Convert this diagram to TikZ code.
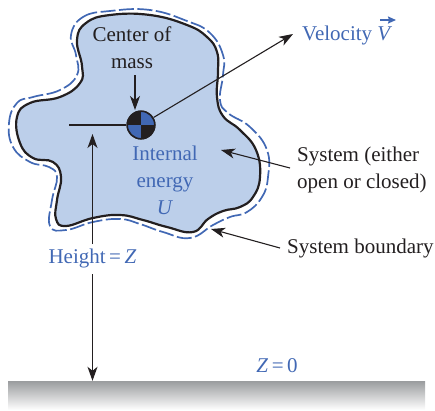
\documentclass[tikz,border=0pt]{standalone}
\usepackage{fontspec}
\setmainfont{Liberation Serif}
\usetikzlibrary{arrows.meta,calc}
\definecolor{fillblue}{HTML}{BCCFEA}
\definecolor{txtblue}{HTML}{4168B4}
\definecolor{ink}{HTML}{231F20}
\definecolor{gtop}{HTML}{9A9C9E}
\tikzset{
  lab/.style={inner sep=0pt,font=\fontsize{21}{27}\selectfont,text=ink,align=center},
  blab/.style={lab,text=txtblue},
  con/.style={draw=ink,line width=1.1pt,-{Stealth[length=14pt,width=10pt,inset=4pt]}},
  plainline/.style={draw=ink,line width=1.1pt}
}
\begin{document}
\begin{tikzpicture}[x=1pt,y=-1pt]
\useasboundingbox (0,0) rectangle (435,410);
% ground
\node[inner sep=0pt,minimum width=417pt,minimum height=29pt,top color=gtop,bottom color=white] (ground) at (216.5,395.5) {};
% solid system
\draw[fill=fillblue,draw=ink,line width=2.2pt,line join=round]
 plot[smooth cycle,tension=0.75] coordinates {
 (77,40)(86,23)(110,15)(150,15)(187,25)(207,37)(217,52)(218,72)(217,97)(223,116)(240,130)(256,150)(260,177)(253,197)(240,207)(223,211)(208,219)(193,232)(167,227)(143,220)(120,215)(93,218)(66,226)(56,219)(57,200)(61,177)(53,162)(33,158)(20,143)(17,117)(30,103)(60,97)(80,83)(82,66)};
% dashed boundary
\draw[draw=txtblue,line width=1.7pt,dash pattern=on 15pt off 3.5pt]
 plot[smooth cycle,tension=0.75] coordinates {
 (71,35)(83,17)(110,11)(150,10)(187,21)(210,33)(223,55)(223,75)(220,100)(228,113)(250,127)(267,150)(268,177)(262,197)(247,212)(230,217)(213,225)(190,238)(163,232)(140,224)(120,219)(93,222)(66,230)(50,226)(52,200)(57,177)(49,167)(30,162)(13,147)(9,123)(17,103)(33,97)(60,90)(77,75)(76,55)};
% labels
\node[lab] (cmlabel) at (132,47.5) {Center of\\mass};
\node[blab] (internal) at (165,180) {Internal\\energy\\\textit{U}};
\node[lab,align=left,anchor=west] (system) at (297,169.5) {System (either\\open or closed)};
\node[lab,anchor=west] (boundary) at (287,248) {System boundary};
\node[blab,anchor=west] (velocity) at (302,35) {Velocity \textit{V}};
\node[blab] (height) at (92.5,258) {Height\,=\,\textit{Z}};
\node[blab] (zzero) at (277,366) {\textit{Z}\,=\,0};
% centre of mass
\node[circle,minimum size=29pt,inner sep=0pt] (cm) at (141,125) {};
\fill[ink] (cm.center) circle (14.5pt);
\begin{scope}
\clip (cm.center) circle (13.5pt);
\fill[txtblue] (cm.center) rectangle ++(15,-15);
\fill[txtblue] (cm.center) rectangle ++(-15,15);
\end{scope}
\draw[ink,line width=1.5pt] (cm.center) circle (13.8pt);
% free ends
\coordinate (cmtail) at (135,75);
\coordinate (cmhead) at (135,110);
\coordinate (hleft) at (69,125);
\coordinate (htip) at (92.5,134);
\coordinate (hup) at (92.5,244);
\coordinate (hdown) at (92.5,274);
\coordinate (velhead) at (293,34);
\coordinate (systail) at (290,168);
\coordinate (syshead) at (221,150);
\coordinate (bdtail) at (280,248);
\coordinate (bdhead) at (211,229);
\coordinate (vecl) at (380,20);
\coordinate (vecr) at (396,20);
% connectors
\draw[con] (cmtail) -- (cmhead);
\draw[plainline] (hleft) -- (cm);
\draw[con] (cm) -- (velhead);
\draw[con] (systail) -- (syshead);
\draw[con] (bdtail) -- (bdhead);
\draw[con] (hup) -- (htip);
\draw[con] (hdown) -- (ground.north -| hdown);
\draw[draw=txtblue,line width=1.6pt,-{Stealth[length=8pt,width=7pt,inset=1pt]}] (vecl) -- (vecr);
\end{tikzpicture}
\end{document}
